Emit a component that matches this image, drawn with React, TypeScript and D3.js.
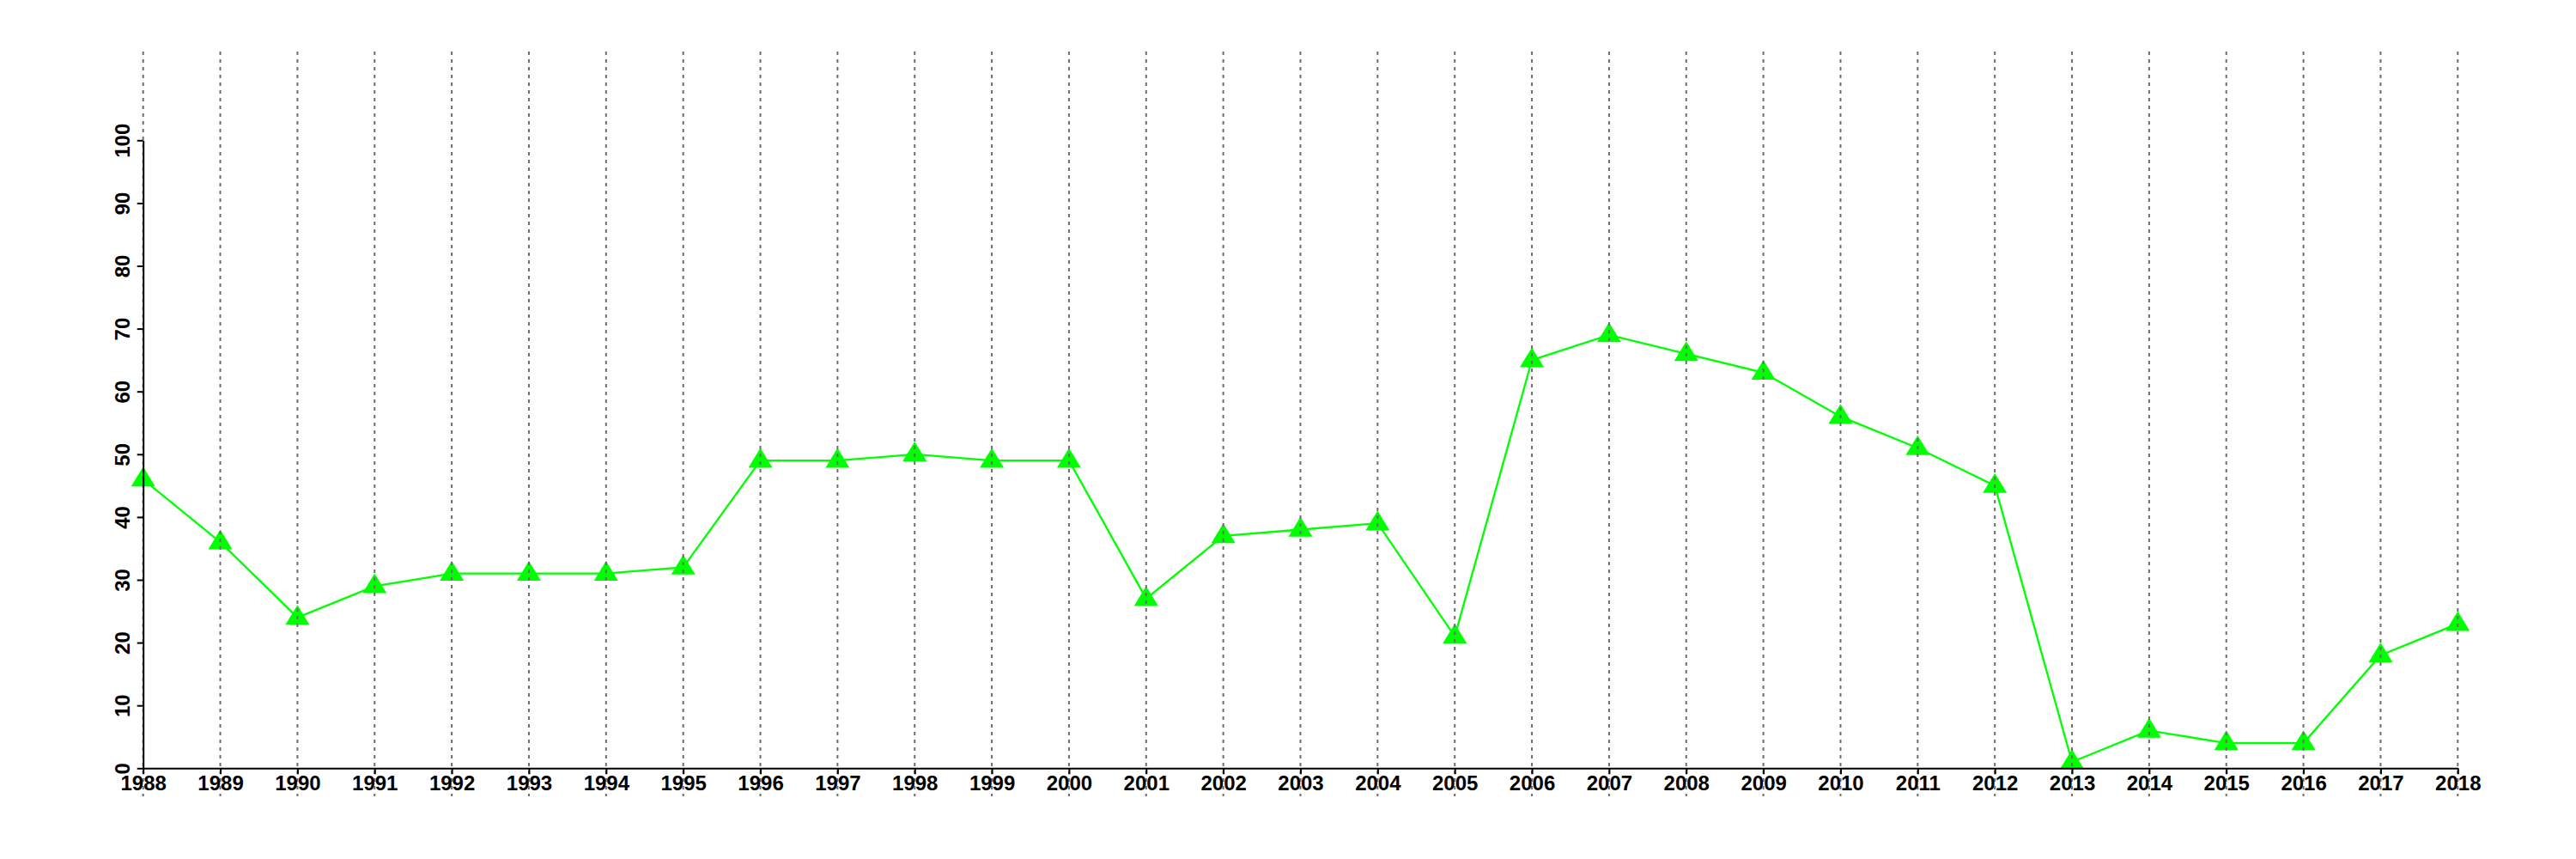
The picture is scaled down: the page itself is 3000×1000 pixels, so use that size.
import { useEffect, useRef } from 'react';
import * as d3 from 'd3';

// yearly values
const years = [
	1988, 1989, 1990, 1991, 1992, 1993, 1994, 1995, 1996, 1997, 1998, 1999, 2000, 2001, 2002, 2003,
	2004, 2005, 2006, 2007, 2008, 2009, 2010, 2011, 2012, 2013, 2014, 2015, 2016, 2017, 2018,
];
const values = [
	46, 36, 24, 29, 31, 31, 31, 32, 49, 49, 50, 49, 49, 27, 37, 38, 39, 21, 65, 69, 66, 63, 56, 51,
	45, 1, 6, 4, 4, 18, 23,
];
const yTicks = [0, 10, 20, 30, 40, 50, 60, 70, 80, 90, 100];

const WIDTH = 3000;
const HEIGHT = 1000;
const FONT = '"Liberation Sans", Arial, Helvetica, sans-serif';

export default function App() {
	const svgRef = useRef<SVGSVGElement>(null);

	useEffect(() => {
		if (!svgRef.current) {
			return;
		}
		const svg = d3.select(svgRef.current);
		svg.selectAll('*').remove();

		const x = d3.scaleLinear().domain([1988, 2018]).range([166.7, 2862.3]);
		const y = d3.scaleLinear().domain([0, 100]).range([894.3, 163.3]);

		const points = years.map((yr, i) => ({ x: yr, y: values[i] }));

		// series line
		const line = d3
			.line<{ x: number; y: number }>()
			.x((d) => x(d.x))
			.y((d) => y(d.y));
		svg.append('path')
			.datum(points)
			.attr('d', line)
			.attr('fill', 'none')
			.attr('stroke', '#00ff00')
			.attr('stroke-width', 2.3);

		// filled triangles (pch 17 look)
		const tri = 'M0,-14.7L14,8.3L-14,8.3Z';
		svg.append('g')
			.selectAll('path')
			.data(points)
			.join('path')
			.attr('d', tri)
			.attr('transform', (d) => `translate(${x(d.x)},${y(d.y)})`)
			.attr('fill', '#00ff00');

		// vertical dotted grid, drawn over the marks like the original
		svg.append('g')
			.selectAll('line')
			.data(years)
			.join('line')
			.attr('x1', (d) => x(d))
			.attr('x2', (d) => x(d))
			.attr('y1', 60)
			.attr('y2', 927)
			.attr('stroke', '#6e6e6e')
			.attr('stroke-width', 2)
			.attr('stroke-dasharray', '4,5');

		// x axis
		const xAxis = d3
			.axisBottom(x)
			.tickValues(years)
			.tickFormat(d3.format('d'))
			.tickSize(7)
			.tickSizeOuter(0)
			.tickPadding(2);
		const gx = svg.append('g').attr('transform', `translate(0,${y(0)})`).call(xAxis);
		gx.select('.domain').attr('stroke', '#000').attr('stroke-width', 2);
		gx.selectAll('.tick line').attr('stroke', '#000').attr('stroke-width', 2);
		gx.selectAll('.tick text')
			.attr('fill', '#000')
			.attr('font-family', FONT)
			.attr('font-weight', 'bold')
			.attr('font-size', 24);

		// y axis, labels turned like R's default
		const yAxis = d3.axisLeft(y).tickValues(yTicks).tickSize(7).tickSizeOuter(0);
		const gy = svg.append('g').attr('transform', `translate(${x(1988)},0)`).call(yAxis);
		gy.select('.domain').attr('stroke', '#000').attr('stroke-width', 2);
		gy.selectAll('.tick line').attr('stroke', '#000').attr('stroke-width', 2);
		gy.selectAll('.tick text')
			.attr('fill', '#000')
			.attr('font-family', FONT)
			.attr('font-weight', 'bold')
			.attr('font-size', 24)
			.attr('x', null)
			.attr('dy', null)
			.attr('text-anchor', 'middle')
			.attr('transform', 'translate(-16,0) rotate(-90)');
	}, []);

	return (
		<svg
			ref={svgRef}
			width={WIDTH}
			height={HEIGHT}
			style={{ position: 'absolute', left: 0, top: 0, background: '#fff' }}
		/>
	);
}
